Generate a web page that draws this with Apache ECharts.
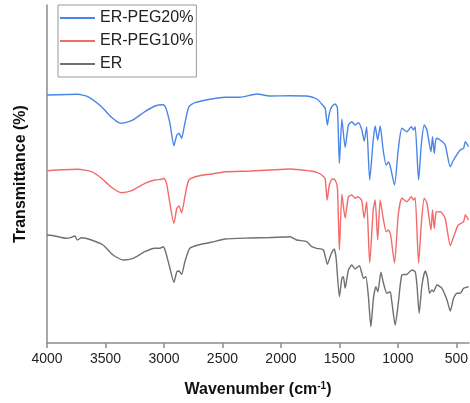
<!DOCTYPE html>
<html>
<head>
<meta charset="utf-8">
<script src="https://cdn.jsdelivr.net/npm/echarts@6/dist/echarts.min.js"></script>
<style>
  html, body { margin: 0; padding: 0; background: #fff; }
  #chart { width: 470px; height: 403px; }
</style>
</head>
<body>
<div id="chart"></div>
<script>
// 刻度
const tickValues = [4000, 3500, 3000, 2500, 2000, 1500, 1000, 500];
const seriesNames = ['ER-PEG20%', 'ER-PEG10%', 'ER'];

// ER-PEG20% (波数, 透过率 任意单位)
const peg20Wn = [4000, 3737, 3652, 3534, 3449, 3369, 3277, 3163, 3077, 3007, 2986, 2949, 2915, 2890, 2871, 2849, 2827, 2787, 2735, 2592, 2479, 2350, 2207, 2093, 1922, 1779, 1693, 1651, 1622, 1603, 1586, 1565, 1537, 1517, 1500, 1479, 1451, 1423, 1394, 1366, 1337, 1308, 1288, 1267, 1241, 1211, 1194, 1173, 1151, 1126, 1100, 1080, 1062, 1029, 997, 966, 923, 886, 866, 852, 823, 800, 775, 752, 717, 704, 689, 672, 638, 596, 552, 524, 467, 438, 424, 396];
const peg20T = [248, 248.7, 246.3, 236.3, 225.7, 219.7, 222.3, 231.3, 237, 238.3, 235.7, 219.7, 197.3, 208, 209.7, 204.7, 216.3, 236.3, 240.3, 244, 245.7, 245.7, 249, 247, 247.3, 247, 244, 239, 234.7, 218, 229.7, 236.3, 239, 235, 179.7, 223.7, 195.7, 218, 221.3, 218, 220.3, 213, 202, 216, 163, 203, 217, 203, 217, 193, 178, 181, 175, 158, 193, 214.7, 211.3, 216.3, 213, 216.3, 163, 198, 218, 213, 191.3, 206.3, 189.7, 204.7, 203, 198, 176.3, 183, 193, 194.7, 201.3, 196.3];

// ER-PEG10%
const peg10Wn = [4000, 3735, 3620, 3534, 3449, 3363, 3277, 3163, 3078, 3020, 3001, 2978, 2949, 2915, 2890, 2872, 2849, 2821, 2787, 2707, 2592, 2479, 2264, 2093, 1922, 1751, 1693, 1651, 1622, 1605, 1586, 1562, 1537, 1517, 1500, 1479, 1451, 1423, 1394, 1366, 1346, 1323, 1308, 1289, 1267, 1241, 1211, 1194, 1173, 1151, 1126, 1100, 1080, 1062, 1029, 997, 966, 923, 886, 866, 852, 823, 800, 775, 752, 717, 704, 689, 672, 638, 596, 552, 524, 484, 438, 424, 396];
const peg10T = [172.3, 173.7, 171.3, 164.7, 155.7, 150.3, 152.3, 159.7, 163, 163.7, 164.7, 159.7, 139.7, 119.7, 134.7, 137, 130.3, 146.3, 163, 167, 169, 171.3, 172, 173, 174, 172, 170.7, 168, 164, 143, 158, 164, 163, 155, 93, 148.7, 125, 146.3, 148, 144.7, 146.3, 144.7, 142, 125, 141.3, 80, 133, 143, 103, 143, 125, 111.3, 113, 108, 80, 128, 144.7, 141.3, 146.3, 143, 145.3, 80, 118, 144.7, 140, 113, 133, 114.7, 131, 131.3, 124.7, 97.3, 106, 118, 121.3, 128, 123];

// ER
const erWn = [4000, 3934, 3834, 3791, 3763, 3740, 3705, 3620, 3521, 3435, 3349, 3264, 3163, 3078, 3035, 3007, 2986, 2949, 2915, 2890, 2872, 2849, 2821, 2779, 2707, 2592, 2479, 2264, 2093, 1922, 1865, 1779, 1736, 1693, 1637, 1603, 1574, 1545, 1528, 1500, 1479, 1466, 1451, 1423, 1394, 1366, 1329, 1294, 1274, 1252, 1231, 1209, 1188, 1171, 1145, 1123, 1094, 1066, 1052, 1023, 995, 966, 923, 880, 852, 837, 818, 794, 766, 746, 729, 709, 695, 666, 623, 580, 552, 524, 495, 467, 438, 396];
const erT = [108, 107, 104.7, 105.7, 107, 103, 105.3, 103, 98, 88, 83, 84.7, 91.3, 94.7, 94.7, 96.3, 91.3, 74.7, 60.7, 71.3, 72, 68.7, 81.3, 94.7, 98, 100.7, 104, 105, 105.5, 106.3, 103, 101.3, 96.3, 94.7, 93, 78.7, 88, 94, 84.7, 46.3, 64.7, 66.3, 54.7, 73, 78, 74, 77.3, 64.7, 66.3, 46.3, 16.3, 44.7, 56.3, 51.3, 70.7, 59.7, 49.7, 51.3, 41.3, 18, 41.3, 68, 68.7, 73, 71.3, 58, 29.7, 58, 72, 64.7, 49.7, 53, 51.3, 58, 54.7, 43, 32, 44.7, 49.7, 49.7, 54.7, 56.3];

const colors = ['#4a86e8', '#f26b6b', '#707070'];

const chart = echarts.init(document.getElementById('chart'));

const zip = (xs, ys) => xs.map((x, i) => [x, ys[i]]);
const seriesData = [zip(peg20Wn, peg20T), zip(peg10Wn, peg10T), zip(erWn, erT)];

const axisColor = '#8c8c8c';

const option = {
    backgroundColor: '#fff',
    animation: false,
    grid: {
        left: 47,
        right: 1,
        top: 5,
        bottom: 60,
        outerBoundsMode: 'none',
        containLabel: false,
    },
    legend: {
        data: seriesNames,
        orient: 'vertical',
        left: 58,
        top: 5,
        icon: 'rect',
        itemWidth: 35,
        itemHeight: 2,
        itemGap: 7,
        padding: [5, 3, 5, 2],
        borderColor: '#999',
        borderWidth: 1,
        textStyle: {
            fontFamily: 'Liberation Sans',
            fontSize: 16,
            color: '#222',
        },
    },
    xAxis: {
        type: 'value',
        inverse: true,
        min: 392,
        max: 4000,
        name: 'Wavenumber (cm{sup|-1})',
        nameLocation: 'middle',
        nameGap: 38,
        nameTextStyle: {
            fontFamily: 'Liberation Sans',
            fontSize: 16,
            fontWeight: 'bold',
            color: '#111',
            rich: {
                sup: {
                    fontFamily: 'Liberation Sans',
                    fontSize: 10,
                    fontWeight: 'bold',
                    color: '#111',
                    verticalAlign: 'top',
                    padding: [0, 0, 8, 0],
                },
            },
        },
        axisLine: {
            onZero: false,
            lineStyle: { color: axisColor, width: 1.5 },
        },
        axisTick: {
            show: true,
            length: 5,
            customValues: tickValues,
            lineStyle: { color: axisColor, width: 1.5 },
        },
        axisLabel: {
            customValues: tickValues,
            formatter: (v) => String(v),
            margin: 9,
            fontFamily: 'Liberation Sans',
            fontSize: 14,
            color: '#222',
        },
        splitLine: { show: false },
    },
    yAxis: {
        type: 'value',
        min: 0,
        max: 338,
        name: 'Transmittance (%)',
        nameLocation: 'middle',
        nameGap: 18,
        nameTextStyle: {
            fontFamily: 'Liberation Sans',
            fontSize: 16,
            fontWeight: 'bold',
            color: '#111',
        },
        axisLine: {
            show: true,
            onZero: false,
            lineStyle: { color: axisColor, width: 1.5 },
        },
        axisTick: { show: false },
        axisLabel: { show: false },
        splitLine: { show: false },
    },
    series: seriesData.map((d, i) => ({
        name: seriesNames[i],
        type: 'line',
        data: d,
        showSymbol: false,
        smooth: 0.2,
        color: colors[i],
        lineStyle: { width: 1.4, color: colors[i] },
    })),
};

chart.setOption(option);
</script>
</body>
</html>
